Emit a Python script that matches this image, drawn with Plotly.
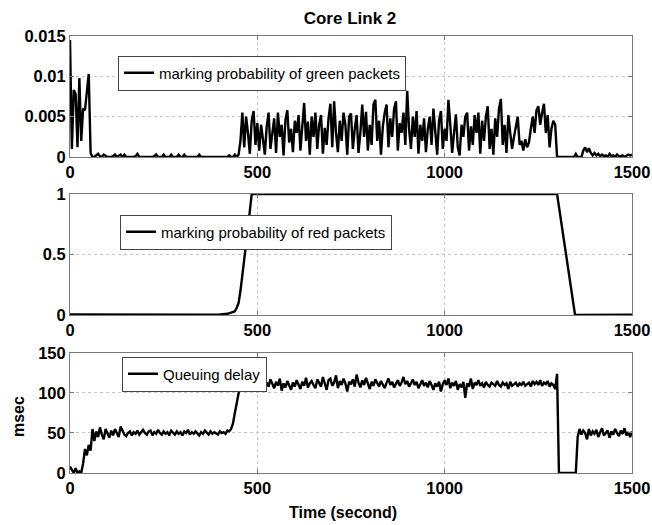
import numpy as np
import plotly.graph_objects as go
from plotly.subplots import make_subplots

# ---------------- data ----------------
STEP = 5  # seconds between samples for green / queue series

green_prob = (
    # t 0-55
    [0.0145, 0.0010, 0.0083, 0.0078, 0.0012, 0.0098, 0.0020, 0.0060, 0.0058, 0.0077, 0.0103, 0.0005]
    # t 60-445
    + [0, 0, 0.0002, 0.0004, 0.0001, 0, 0.0003, 0.0001, 0, 0]
    + [0, 0.0001, 0.0003, 0, 0.0001, 0.0003, 0, 0.0003, 0, 0]
    + [0, 0, 0, 0.0001, 0.0004, 0, 0, 0, 0, 0]
    + [0, 0, 0, 0.0001, 0.0003, 0, 0, 0, 0.0003, 0]
    + [0, 0, 0.0003, 0, 0, 0, 0.0003, 0, 0, 0.0003]
    + [0, 0, 0, 0, 0, 0, 0, 0.0003, 0, 0]
    + [0, 0, 0, 0, 0, 0, 0, 0, 0, 0]
    + [0, 0, 0, 0.0002, 0, 0, 0.0003, 0]
    # t 450-1300
    + [0.0003, 0.0020, 0.0055, 0.0012, 0.0050, 0.0030, 0.0004, 0.0045, 0.0057, 0.0015]
    + [0.0042, 0.0008, 0.0040, 0.0022, 0.0003, 0.0038, 0.0055, 0.0010, 0.0030, 0.0048]
    + [0.0005, 0.0055, 0.0025, 0.0040, 0.0002, 0.0046, 0.0058, 0.0018, 0.0035, 0.0006]
    + [0.0045, 0.0030, 0.0052, 0.0008, 0.0038, 0.0067, 0.0020, 0.0044, 0.0003, 0.0050]
    + [0.0025, 0.0055, 0.0010, 0.0040, 0.0052, 0.0004, 0.0036, 0.0015, 0.0048, 0.0066]
    + [0.0012, 0.0069, 0.0030, 0.0006, 0.0045, 0.0020, 0.0055, 0.0040, 0.0003, 0.0050]
    + [0.0054, 0.0010, 0.0035, 0.0052, 0.0005, 0.0030, 0.0065, 0.0025, 0.0056, 0.0008]
    + [0.0040, 0.0015, 0.0065, 0.0071, 0.0020, 0.0045, 0.0003, 0.0038, 0.0055, 0.0065]
    + [0.0012, 0.0048, 0.0025, 0.0060, 0.0069, 0.0008, 0.0042, 0.0030, 0.0055, 0.0015]
    + [0.0082, 0.0035, 0.0010, 0.0050, 0.0025, 0.0057, 0.0004, 0.0040, 0.0020, 0.0048]
    + [0.0006, 0.0035, 0.0050, 0.0015, 0.0060, 0.0028, 0.0003, 0.0045, 0.0057, 0.0010]
    + [0.0035, 0.0020, 0.0071, 0.0040, 0.0005, 0.0030, 0.0053, 0.0012, 0.0002, 0.0040]
    + [0.0025, 0.0050, 0.0055, 0.0008, 0.0038, 0.0015, 0.0052, 0.0030, 0.0055, 0.0004]
    + [0.0045, 0.0020, 0.0050, 0.0063, 0.0010, 0.0035, 0.0003, 0.0048, 0.0025, 0.0060]
    + [0.0072, 0.0015, 0.0040, 0.0005, 0.0052, 0.0030, 0.0010, 0.0025, 0.0038, 0.0050]
    + [0.0015, 0.0020, 0.0008, 0.0022, 0.0012, 0.0018, 0.0035, 0.0050, 0.0030, 0.0058]
    + [0.0063, 0.0040, 0.0055, 0.0066, 0.0030, 0.0052, 0.0012, 0.0035, 0.0045, 0.0040]
    + [0.0]
    # t 1305-1500
    + [0, 0, 0, 0, 0, 0, 0, 0, 0, 0.0004]
    + [0, 0, 0, 0.0008, 0.0012, 0.0006, 0.0011, 0.0005, 0.0002, 0.0005]
    + [0.0002, 0.0004, 0.0001, 0.0003, 0.0001, 0.0002, 0, 0.0004, 0.0001, 0.0002]
    + [0, 0.0003, 0.0001, 0.0001, 0.0002, 0, 0.0001, 0.0003, 0.0002, 0.0003]
)

red_time = [0, 50, 100, 200, 300, 350, 400, 420, 430, 440, 445, 450, 455, 460,
            465, 470, 475, 480, 485, 490, 600, 800, 1000, 1100, 1200, 1300,
            1348, 1400, 1500]
red_prob = [0.005, 0.004, 0.003, 0.002, 0.002, 0.003, 0.005, 0.01, 0.02, 0.03,
            0.06, 0.10, 0.20, 0.32, 0.45, 0.58, 0.72, 0.86, 1.0, 1.0, 1.0, 1.0,
            1.0, 1.0, 1.0, 1.0, 0.0, 0.003, 0.003]

queue_delay = (
    [8, 3, 0, 6, 0, 2, 0, 12, 30, 22]
    + [35, 28, 55, 40, 52, 45, 57, 48, 42, 55]
    + [50, 44, 53, 47, 55, 49, 45, 58, 52, 48]
    + [46, 50, 52, 47, 51, 49, 53, 48, 51, 54]
    + [50, 48, 52, 53, 47, 51, 49, 54, 50, 48]
    + [52, 49, 51, 47, 53, 50, 48, 52, 49, 51]
    + [47, 52, 50, 54, 48, 51, 49, 52, 50, 47]
    + [51, 49, 53, 50, 48, 52, 49, 51, 50, 48]
    + [52, 50, 51, 49, 53, 52, 55, 62, 75, 88]
    + [100, 112, 108, 115, 104, 118, 110, 106, 114, 109]
    + [112, 105, 116, 110, 102, 113, 108, 117, 111, 106]
    + [114, 109, 118, 103, 112, 107, 115, 110, 104, 113]
    + [108, 116, 111, 105, 114, 109, 119, 107, 112, 115]
    + [110, 106, 117, 112, 108, 120, 111, 104, 116, 118]
    + [109, 113, 122, 106, 115, 110, 118, 112, 102, 114]
    + [111, 117, 108, 123, 113, 107, 116, 110, 119, 112]
    + [105, 114, 109, 117, 112, 108, 115, 111, 106, 113]
    + [118, 110, 114, 107, 112, 116, 109, 113, 120, 111]
    + [115, 108, 112, 117, 110, 114, 106, 111, 116, 109]
    + [113, 107, 115, 110, 104, 112, 108, 114, 102, 111]
    + [116, 110, 118, 106, 113, 109, 115, 104, 111, 107]
    + [114, 94, 112, 108, 118, 105, 113, 110, 116, 109]
    + [112, 107, 114, 110, 108, 113, 111, 109, 115, 110]
    + [108, 113, 110, 112, 105, 114, 109, 111, 113, 108]
    + [112, 110, 114, 109, 111, 113, 108, 115, 111, 114]
    + [110, 116, 109, 113, 111, 115, 108, 112, 110, 105]
    + [124, 0, 0, 0, 0, 0, 0, 0, 0, 0]
    + [0, 45, 55, 48, 53, 50, 42, 55, 47, 52]
    + [49, 54, 45, 51, 56, 47, 50, 53, 44, 52]
    + [48, 55, 50, 46, 53, 49, 56, 47, 51, 45]
    + [52]
)

x_ticks = [0, 500, 1000, 1500]
green_ticks = [0, 0.005, 0.01, 0.015]
green_ticktext = ["0", "0.005", "0.01", "0.015"]
red_ticks = [0, 0.5, 1]
red_ticktext = ["0", "0.5", "1"]
queue_ticks = [0, 50, 100, 150]

green_time = [i * STEP for i in range(len(green_prob))]
queue_time = [i * STEP for i in range(len(queue_delay))]

# ---------------- figure ----------------
FONT = "Liberation Sans, Arial, Helvetica, sans-serif"
W, H = 652, 525
fig = make_subplots(rows=3, cols=1, shared_xaxes=False)

line_style = dict(color="black", width=2.4)
fig.add_trace(go.Scatter(x=green_time, y=green_prob, mode="lines", line=line_style,
                         name="marking probability of green packets", legend="legend"),
              row=1, col=1)
fig.add_trace(go.Scatter(x=red_time, y=red_prob, mode="lines", line=line_style,
                         name="marking probability of red packets", legend="legend2"),
              row=2, col=1)
fig.add_trace(go.Scatter(x=queue_time, y=queue_delay, mode="lines", line=line_style,
                         name="Queuing delay", legend="legend3"),
              row=3, col=1)

tickfont = dict(family=FONT, size=16.5, color="black", weight="bold")
axis_common = dict(showline=True, linecolor="#7a7a7a", linewidth=1, mirror="ticks",
                   ticks="inside", ticklen=4, tickcolor="#7a7a7a",
                   showgrid=True, gridcolor="#c4c4c4", griddash="dot", gridwidth=1,
                   zeroline=False, tickfont=tickfont, automargin=False)

domains = [[0.7231, 1.0], [0.3616, 0.6384], [0.0, 0.2746]]
for name in ["xaxis", "xaxis2", "xaxis3"]:
    fig.layout[name].update(range=[0, 1500], tickvals=x_ticks, **axis_common)
for name, dom in zip(["yaxis", "yaxis2", "yaxis3"], domains):
    fig.layout[name].update(domain=dom, **axis_common)

fig.layout.yaxis.update(range=[0, 0.015], tickvals=green_ticks, ticktext=green_ticktext)
fig.layout.yaxis2.update(range=[0, 1], tickvals=red_ticks, ticktext=red_ticktext)
fig.layout.yaxis3.update(range=[0, 150], tickvals=queue_ticks)

legend_common = dict(bgcolor="white", bordercolor="#444", borderwidth=1,
                     font=dict(family=FONT, size=15, color="black"),
                     xanchor="left", yanchor="middle", tracegroupgap=0, itemwidth=30)
# legend centres (page pixels): y 73, 232, 374; plot area spans 36..473
fig.update_layout(
    legend=dict(x=(118 - 70) / 562, y=1 - (73 - 36) / 437, **legend_common),
    legend2=dict(x=(120 - 70) / 562, y=1 - (232 - 36) / 437, **legend_common),
    legend3=dict(x=(122 - 70) / 562, y=1 - (374 - 36) / 437, **legend_common),
)

fig.update_layout(
    width=W, height=H,
    margin=dict(l=70, r=20, t=36, b=52, autoexpand=False),
    paper_bgcolor="white", plot_bgcolor="white",
    showlegend=True,
    title=dict(text="Core Link 2", x=(350 - 70) / 562, xref="paper", y=1 - 18 / H, yref="container",
               xanchor="center", yanchor="middle",
               font=dict(family=FONT, size=17, color="black", weight="bold")),
    annotations=[
        dict(text="Time (second)", x=(343 - 70) / 562, y=-(512 - 473) / 437, xref="paper", yref="paper",
             xanchor="center", yanchor="middle", showarrow=False,
             font=dict(family=FONT, size=16, color="black", weight="bold")),
        dict(text="msec", x=(18 - 70) / 562, y=1 - (417 - 36) / 437, xref="paper", yref="paper",
             xanchor="center", yanchor="middle", showarrow=False, textangle=-90,
             font=dict(family=FONT, size=16, color="black", weight="bold")),
    ],
)

# remove the default page margin so the figure fills the 652x525 window exactly
fig.write_html("out.html",
               config={"displayModeBar": False},
               post_script="document.body.style.margin='0';document.body.style.overflow='hidden';")
